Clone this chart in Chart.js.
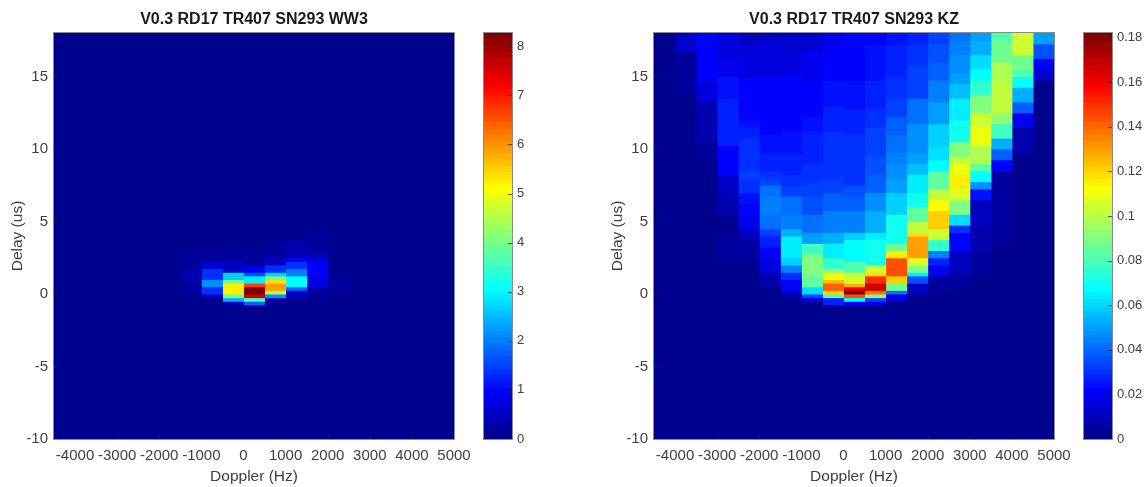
<!DOCTYPE html>
<html>
<head>
<meta charset="utf-8">
<script src="https://cdn.jsdelivr.net/npm/chart.js@4"></script>
<style>
    html, body { margin: 0; padding: 0; background: #fff; overflow: hidden; }
    #page { position: relative; width: 1146px; height: 487px; }
    canvas { position: absolute; top: 0; }
</style>
</head>
<body>
<div id="page">
    <canvas id="ww3Map" width="470" height="487" style="left:0"></canvas>
    <canvas id="ww3Bar" width="76" height="487" style="left:470px"></canvas>
    <canvas id="kzMap" width="470" height="487" style="left:600px"></canvas>
    <canvas id="kzBar" width="76" height="487" style="left:1070px"></canvas>
</div>
<script>
// --- Data ---
const dopplerCentres = [-4250, -3750, -3250, -2750, -2250, -1750, -1250, -750, -250, 250, 750, 1250, 1750, 2250, 2750, 3250, 3750, 4250, 4750];
const dopplerTicks = [-4000, -3000, -2000, -1000, 0, 1000, 2000, 3000, 4000, 5000];
const delayTicks = [-10, -5, 0, 5, 10, 15];
const ww3Ticks = [0, 1, 2, 3, 4, 5, 6, 7, 8];
const kzTicks = [0, 0.02, 0.04, 0.06, 0.08, 0.1, 0.12, 0.14, 0.16, 0.18];
const ww3Max = 8.27;
const kzMax = 0.182;

// one list per Doppler column, each entry is [delay the run starts at, value]
const ww3Columns = [
    [[-10, 0]], [[-10, 0]], [[-10, 0]], [[-10, 0]], [[-10, 0]],
    [[-10, 0], [0.25, 0.1], [1, 0]],
    [[-10, 0], [0, 0.2], [0.75, 0.3], [1.75, 0.2], [3, 0.08], [3.75, 0]],
    [[-10, 0], [-0.5, 0.1], [-0.25, 0.5], [0, 1.35], [0.5, 2.1], [1, 1.4], [1.75, 0.6], [2.25, 0.2], [3, 0]],
    [[-10, 0], [-0.75, 0.5], [-0.5, 2.4], [-0.25, 4], [0, 5.2], [0.75, 4], [1, 2.7], [1.5, 0.45], [2.25, 0.15], [3.25, 0]],
    [[-10, 0], [-0.75, 1.8], [-0.5, 3.5], [-0.25, 7.5], [0, 8.27], [0.5, 6.7], [0.75, 2.9], [1.25, 1.6], [1.5, 0.8], [2, 0.15], [3, 0]],
    [[-10, 0], [-0.5, 0.3], [-0.25, 2.1], [0, 4.4], [0.25, 5.9], [0.75, 5.3], [1, 3.9], [1.25, 2.7], [1.5, 1.4], [2, 0.45], [2.5, 0.2], [3.5, 0]],
    [[-10, 0], [-0.25, 0.5], [0.25, 1.8], [0.5, 3], [1.25, 2], [1.75, 1.3], [2.25, 0.8], [2.5, 0.3], [3.75, 0]],
    [[-10, 0], [-0.25, 0.2], [0.5, 0.7], [1.25, 1], [2.25, 0.6], [2.75, 0.2], [4.25, 0]],
    [[-10, 0], [0.25, 0.15], [1.25, 0.07], [2, 0.1], [4.25, 0]],
    [[-10, 0]], [[-10, 0]], [[-10, 0]], [[-10, 0]], [[-10, 0]]
];

const kzColumns = [
    [[-10, 0], [14, 0.001], [17, 0.002]],
    [[-10, 0], [13.75, 0.005], [16.75, 0.012]],
    [[-10, 0], [9.25, 0.004], [10.5, 0.008], [13.25, 0.015], [14.75, 0.02]],
    [[-10, 0], [2.25, 0.004], [4, 0.002], [5.5, 0.006], [6.75, 0.009], [7.5, 0.012], [8.25, 0.02], [10.25, 0.026], [13.5, 0.023], [15, 0.018], [16.25, 0.015]],
    [[-10, 0], [0.5, 0.002], [2.25, 0.005], [3.75, 0.01], [4.5, 0.018], [5.5, 0.022], [6.25, 0.025], [7, 0.03], [8, 0.032], [8.5, 0.03], [10.75, 0.027], [11.5, 0.025], [12, 0.022], [13, 0.02], [15, 0.015], [17.25, 0.011]],
    [[-10, 0], [-1, 0.001], [0.5, 0.006], [1.5, 0.017], [2.5, 0.022], [3.25, 0.027], [4, 0.033], [4.5, 0.04], [5.5, 0.044], [6.75, 0.04], [7.5, 0.034], [8, 0.03], [8.5, 0.027], [9.75, 0.025], [11, 0.022], [12.75, 0.02], [15, 0.015], [17.5, 0.011]],
    [[-10, 0], [-0.25, 0.006], [0.25, 0.02], [1, 0.03], [1.5, 0.044], [2, 0.057], [2.5, 0.065], [4, 0.053], [4.5, 0.044], [5.5, 0.04], [6.75, 0.033], [7.5, 0.03], [8.25, 0.027], [9.75, 0.025], [11.25, 0.022], [13.5, 0.02], [15.25, 0.016], [16.75, 0.014]],
    [[-10, 0], [-0.5, 0.016], [-0.25, 0.033], [0, 0.06], [0.5, 0.083], [1.25, 0.09], [2.75, 0.077], [3.5, 0.05], [4.25, 0.04], [5.5, 0.035], [6.75, 0.032], [7.75, 0.029], [9, 0.027], [11.25, 0.024], [12.25, 0.022], [14.5, 0.018], [16.75, 0.014]],
    [[-10, 0], [-0.75, 0.028], [-0.25, 0.08], [0, 0.12], [0.25, 0.14], [0.75, 0.125], [1, 0.11], [1.5, 0.093], [1.75, 0.076], [2.5, 0.063], [3.5, 0.052], [4.25, 0.044], [5.75, 0.038], [7, 0.033], [8, 0.03], [11.25, 0.027], [13, 0.024], [14.75, 0.022], [17.25, 0.018]],
    [[-10, 0], [-0.75, 0.022], [-0.5, 0.068], [-0.25, 0.145], [0, 0.182], [0.25, 0.16], [0.5, 0.127], [0.75, 0.103], [1.5, 0.08], [2.25, 0.066], [3.75, 0.058], [4.25, 0.044], [5.75, 0.038], [6.75, 0.035], [7.5, 0.03], [11, 0.027], [12.75, 0.025], [14.75, 0.022]],
    [[-10, 0], [-0.75, 0.015], [-0.5, 0.033], [-0.25, 0.09], [0, 0.137], [0.25, 0.165], [0.75, 0.15], [1.25, 0.118], [1.5, 0.103], [2, 0.07], [3.75, 0.064], [4.25, 0.052], [5.75, 0.048], [7, 0.038], [8.25, 0.036], [9.5, 0.034], [11.5, 0.03], [12.75, 0.027], [14.75, 0.024], [17.25, 0.021]],
    [[-10, 0], [-0.5, 0.015], [0, 0.042], [0.25, 0.086], [0.75, 0.12], [1.25, 0.145], [2.5, 0.115], [3, 0.088], [3.5, 0.07], [5.5, 0.057], [7, 0.05], [8, 0.046], [9, 0.044], [9.75, 0.04], [11, 0.037], [12.25, 0.033], [13.5, 0.03], [15, 0.027], [17.25, 0.025]],
    [[-10, 0], [0, 0.01], [0.75, 0.035], [1.25, 0.063], [1.5, 0.09], [2, 0.108], [2.5, 0.13], [4, 0.118], [4.25, 0.102], [5, 0.085], [6, 0.07], [7, 0.065], [8.25, 0.055], [9, 0.05], [9.75, 0.046], [11.75, 0.04], [13.5, 0.034], [15.75, 0.03], [17.25, 0.028]],
    [[-10, 0], [0.25, 0.005], [1.25, 0.018], [2, 0.028], [2.5, 0.044], [3, 0.075], [3.75, 0.103], [4.5, 0.122], [5.75, 0.112], [6.5, 0.1], [7.25, 0.085], [8.5, 0.067], [9.25, 0.062], [10.25, 0.057], [11.75, 0.051], [13.25, 0.044], [14.75, 0.038], [16, 0.035], [17.25, 0.032]],
    [[-10, 0], [0.5, 0.005], [1.5, 0.009], [3, 0.02], [4.25, 0.03], [4.75, 0.062], [5.5, 0.09], [6.5, 0.108], [7.25, 0.115], [8.25, 0.11], [9, 0.1], [9.5, 0.089], [10.5, 0.07], [12, 0.063], [13.5, 0.055], [14.5, 0.05], [15.25, 0.046], [16.5, 0.044], [17.5, 0.04]],
    [[-10, 0], [1.5, 0.003], [3, 0.006], [4.75, 0.011], [6.5, 0.023], [7.25, 0.048], [7.75, 0.067], [8.5, 0.085], [9, 0.098], [10.25, 0.11], [11.5, 0.103], [12.5, 0.09], [13.75, 0.075], [14.75, 0.067], [15.5, 0.06], [16.5, 0.053], [17.5, 0.049]],
    [[-10, 0], [3.5, 0.003], [6, 0.005], [8.5, 0.02], [9.25, 0.037], [10, 0.052], [10.75, 0.078], [11.75, 0.093], [12.5, 0.102], [14.75, 0.097], [16, 0.087], [17.5, 0.08]],
    [[-10, 0], [6, 0.002], [9.75, 0.006], [11.5, 0.018], [12.5, 0.037], [13.25, 0.052], [14.25, 0.067], [15, 0.08], [15.5, 0.088], [16.5, 0.103]],
    [[-10, 0], [9, 0.002], [14.75, 0.012], [15.5, 0.022], [16.25, 0.035], [17.25, 0.049]]
];

// --- Colours ---
const clamp01 = (v) => Math.max(0, Math.min(1, v));

// MATLAB style jet with 64 flat levels
const jetLevel = (level) => {
    const t = (level + 1) / 64;
    const r = clamp01(1.5 - Math.abs(4 * t - 3));
    const g = clamp01(1.5 - Math.abs(4 * t - 2));
    const b = clamp01(1.5 - Math.abs(4 * t - 1));
    return `rgb(${Math.round(r * 255)},${Math.round(g * 255)},${Math.round(b * 255)})`;
};
const jetValue = (v, max) => jetLevel(Math.min(63, Math.floor(v / max * 64)));

// --- Shared bits ---
const FONT = '"Liberation Sans", Arial, sans-serif';
const TEXT = '#404040';

// ticks point inward and a thin box goes round the plot, chart.js has no option for either
const matlabFrame = {
    id: 'matlabFrame',
    afterDatasetsDraw(chart, args, opts) {
        const { ctx, chartArea: a } = chart;
        ctx.save();
        ctx.strokeStyle = '#262626';
        ctx.globalAlpha = 0.75;
        ctx.lineWidth = 1;
        ctx.beginPath();
        const px = chart.scales.x;
        const py = chart.scales.y;
        if (opts.xTicks) {
            px.ticks.forEach(t => {
                const x = Math.round(px.getPixelForValue(t.value)) + 0.5;
                ctx.moveTo(x, a.bottom);
                ctx.lineTo(x, a.bottom - 4);
            });
        }
        py.ticks.forEach(t => {
            const y = Math.round(py.getPixelForValue(t.value)) + 0.5;
            if (py.position === 'left') {
                ctx.moveTo(a.left, y);
                ctx.lineTo(a.left + 4, y);
            } else {
                ctx.moveTo(a.right, y);
                ctx.lineTo(a.right - 4, y);
            }
        });
        ctx.stroke();
        ctx.globalAlpha = 1;
        ctx.strokeStyle = '#8c8c8c';
        ctx.strokeRect(a.left - 0.5, a.top - 0.5, a.right - a.left + 1, a.bottom - a.top + 1);
        ctx.restore();
    }
};

const setTicks = (list) => (scale) => { scale.ticks = list.map(value => ({ value })); };

const renderMap = (id, titleText, columns, max) => {
    const datasets = columns.map((runs, k) => ({
        data: runs.map((run, i) => ({
            x: dopplerCentres[k],
            y: [run[0], i + 1 < runs.length ? runs[i + 1][0] : 18],
            v: run[1]
        })),
        backgroundColor: (c) => jetValue(c.raw ? c.raw.v : 0, max),
        borderWidth: 0,
        inflateAmount: 0.5,
        grouped: false,
        barPercentage: 1,
        categoryPercentage: 1
    }));

    new Chart(document.getElementById(id), {
        type: 'bar',
        data: { datasets },
        plugins: [matlabFrame],
        options: {
            responsive: false,
            animation: false,
            layout: { autoPadding: false, padding: { right: 16 } },
            plugins: {
                legend: { display: false },
                tooltip: { enabled: false },
                matlabFrame: { xTicks: true },
                title: {
                    display: true,
                    text: titleText,
                    fullSize: false,
                    color: '#1a1a1a',
                    font: { family: FONT, size: 16, weight: 'bold', lineHeight: 1.2 },
                    padding: { top: 9.5, bottom: 4.3 }
                }
            },
            scales: {
                x: {
                    type: 'linear',
                    min: -4500,
                    max: 5000,
                    offset: false,
                    afterBuildTicks: setTicks(dopplerTicks),
                    afterFit: (s) => { s.height = 48; s.paddingLeft = 0; s.paddingRight = 0; },
                    border: { display: false },
                    grid: { display: false, drawTicks: false },
                    ticks: {
                        autoSkip: false,
                        maxRotation: 0,
                        color: TEXT,
                        padding: 8,
                        font: { family: FONT, size: 15 },
                        callback: (v) => String(v)
                    },
                    title: {
                        display: true,
                        text: 'Doppler (Hz)',
                        color: TEXT,
                        font: { family: FONT, size: 15.5 },
                        padding: { top: 0, bottom: 1 }
                    }
                },
                y: {
                    min: -10,
                    max: 18,
                    afterBuildTicks: setTicks(delayTicks),
                    afterFit: (s) => { s.width = 54; },
                    border: { display: false },
                    grid: { display: false, drawTicks: false },
                    ticks: {
                        autoSkip: false,
                        color: TEXT,
                        padding: 6,
                        font: { family: FONT, size: 15 },
                        callback: (v) => String(v)
                    },
                    title: {
                        display: true,
                        text: 'Delay (us)',
                        color: TEXT,
                        font: { family: FONT, size: 15.5 },
                        padding: { top: 8, bottom: 0 }
                    }
                }
            }
        }
    });
};

const renderColorbar = (id, ticks, max) => {
    const datasets = [];
    for (let level = 0; level < 64; level++) {
        datasets.push({
            data: [[level / 64 * max, (level + 1) / 64 * max]],
            backgroundColor: jetLevel(level),
            borderWidth: 0,
            inflateAmount: 0.5,
            grouped: false,
            barPercentage: 1,
            categoryPercentage: 1
        });
    }

    new Chart(document.getElementById(id), {
        type: 'bar',
        data: { labels: [''], datasets },
        plugins: [matlabFrame],
        options: {
            responsive: false,
            animation: false,
            layout: { autoPadding: false, padding: { left: 14, top: 33, bottom: 48 } },
            plugins: {
                legend: { display: false },
                tooltip: { enabled: false },
                matlabFrame: { xTicks: false }
            },
            scales: {
                x: { display: false },
                y: {
                    position: 'right',
                    min: 0,
                    max,
                    afterBuildTicks: setTicks(ticks),
                    afterFit: (s) => { s.width = 34; },
                    border: { display: false },
                    grid: { display: false, drawTicks: false },
                    ticks: {
                        autoSkip: false,
                        color: TEXT,
                        padding: 5,
                        font: { family: FONT, size: 13 },
                        callback: (v) => String(v)
                    }
                }
            }
        }
    });
};

const init = () => {
    renderMap('ww3Map', 'V0.3 RD17 TR407 SN293 WW3', ww3Columns, ww3Max);
    renderColorbar('ww3Bar', ww3Ticks, ww3Max);
    renderMap('kzMap', 'V0.3 RD17 TR407 SN293 KZ', kzColumns, kzMax);
    renderColorbar('kzBar', kzTicks, kzMax);
};

init();
</script>
</body>
</html>
